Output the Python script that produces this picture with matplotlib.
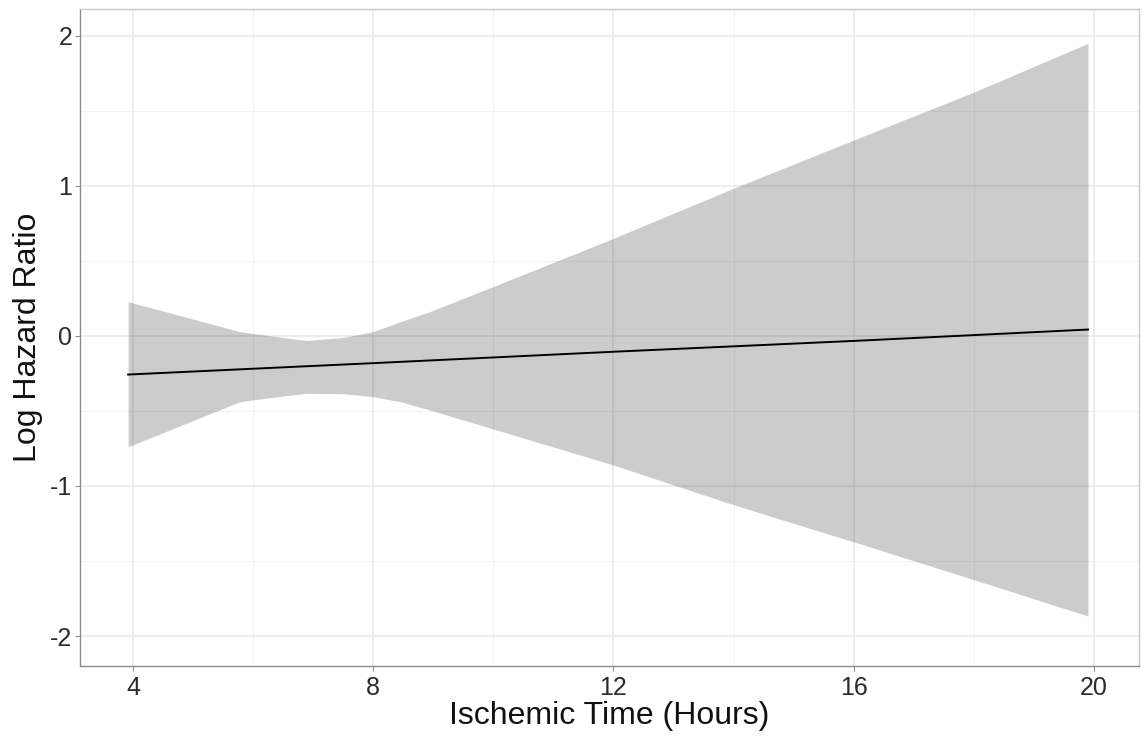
import matplotlib.pyplot as plt
from matplotlib.ticker import MultipleLocator

# values
time_hours = [3.92, 5.0, 5.78, 6.4, 6.89, 7.5, 8.0, 8.45, 8.94, 10.0, 12.0, 14.0, 16.1, 18.02, 19.9]
upper_ci = [0.229, 0.113, 0.029, -0.005, -0.03, -0.01, 0.029, 0.095, 0.162, 0.33, 0.651, 0.985, 1.322, 1.629, 1.951]
lower_ci = [-0.738, -0.564, -0.438, -0.405, -0.382, -0.385, -0.404, -0.438, -0.493, -0.62, -0.86, -1.125, -1.385, -1.627, -1.867]

fit_hours = [3.92, 8.0, 12.0, 16.1, 19.9]
fit_log_hr = [-0.257, -0.181, -0.105, -0.031, 0.043]

x_ticks = [4, 8, 12, 16, 20]
y_ticks = [-2, -1, 0, 1, 2]

plt.rcParams['font.family'] = ['Liberation Sans', 'DejaVu Sans']

fig = plt.figure(figsize=(11.42, 7.36), dpi=100)
ax = fig.add_axes([0.0700, 0.0951, 0.9274, 0.8927])

# ggplot theme_bw style grid
ax.set_axisbelow(True)
ax.xaxis.set_minor_locator(MultipleLocator(2))
ax.yaxis.set_minor_locator(MultipleLocator(0.5))
ax.grid(which='major', color='#e8e8e8', linewidth=1.1)
ax.grid(which='minor', color='#f2f2f2', linewidth=0.7)

ax.fill_between(time_hours, lower_ci, upper_ci, color='black', alpha=0.2, linewidth=0)
ax.plot(fit_hours, fit_log_hr, color='black', linewidth=1.4)

ax.set_xlim(3.118, 20.75)
ax.set_ylim(-2.2, 2.18)
ax.set_xticks(x_ticks)
ax.set_yticks(y_ticks)
ax.set_xticklabels([str(t) for t in x_ticks])
ax.set_yticklabels([str(t) for t in y_ticks])

for side in ax.spines.values():
    side.set_color('#8c8c8c')
    side.set_linewidth(1.0)
ax.spines['top'].set_color('#c8c8c8')
ax.spines['right'].set_color('#c8c8c8')

ax.tick_params(which='major', length=3.5, width=0.8, color='#8c8c8c',
               labelsize=18, labelcolor='#2b2b2b')
ax.tick_params(axis='x', pad=3.5)
ax.tick_params(axis='y', pad=2)
ax.tick_params(which='minor', length=0)

ax.set_xlabel('Ischemic Time (Hours)', fontsize=23, color='#111111', labelpad=1)
ax.set_ylabel('Log Hazard Ratio', fontsize=23, color='#111111', labelpad=5)

plt.savefig('out.png', dpi=100)
